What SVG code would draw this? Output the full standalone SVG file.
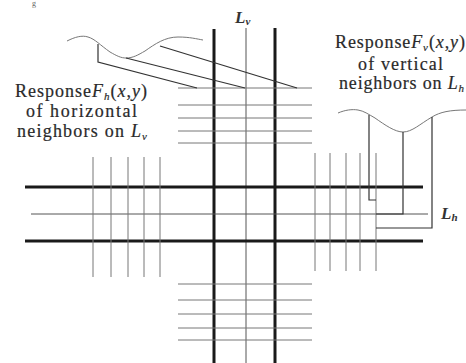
<svg xmlns="http://www.w3.org/2000/svg" width="466" height="363" viewBox="0 0 466 363">
<style>
.thick{stroke:#1a1a1a;stroke-width:3;fill:none}
.thin{stroke:#555;stroke-width:1;fill:none}
.nb{stroke:#777;stroke-width:1;fill:none}
.curve{stroke:#777;stroke-width:1;fill:none}
.conn{stroke:#333;stroke-width:1.2;fill:none}
.lbl{font-family:"Liberation Serif","Times New Roman",serif;font-size:18px;fill:#2a2a2a;stroke:#2a2a2a;stroke-width:0.2}
.it{font-style:italic}
.sub{font-size:11px}
.L{font-family:"Liberation Serif","Times New Roman",serif;font-size:17px;font-style:italic;font-weight:bold;fill:#333}
</style>
<rect width="466" height="363" fill="#fff"/>
<text x="32" y="6" font-family="Liberation Serif, serif" font-size="8" fill="#666">g</text>
<g id="main-lines">
<line class="thick" x1="214" y1="29" x2="214" y2="363"/>
<line class="thin" x1="246" y1="28" x2="246" y2="363"/>
<line class="thick" x1="275" y1="28" x2="275" y2="363"/>
<line class="thick" x1="25" y1="187" x2="423" y2="187"/>
<line class="thin" x1="31" y1="214" x2="428" y2="214"/>
<line class="thick" x1="25" y1="241" x2="423" y2="241"/>
</g>
<g id="top-neighbors">
<line class="nb" x1="178" y1="88" x2="312" y2="88"/>
<line class="nb" x1="178" y1="105" x2="312" y2="105"/>
<line class="nb" x1="178" y1="118" x2="312" y2="118"/>
<line class="nb" x1="178" y1="131" x2="312" y2="131"/>
<line class="nb" x1="178" y1="143" x2="312" y2="143"/>
</g>
<g id="bottom-neighbors">
<line class="nb" x1="178" y1="284" x2="312" y2="284"/>
<line class="nb" x1="178" y1="300" x2="312" y2="300"/>
<line class="nb" x1="178" y1="314" x2="312" y2="314"/>
<line class="nb" x1="178" y1="328" x2="312" y2="328"/>
<line class="nb" x1="178" y1="340" x2="312" y2="340"/>
</g>
<g id="left-neighbors">
<line class="nb" x1="93" y1="157" x2="93" y2="277"/>
<line class="nb" x1="111" y1="157" x2="111" y2="277"/>
<line class="nb" x1="128" y1="157" x2="128" y2="277"/>
<line class="nb" x1="144" y1="157" x2="144" y2="277"/>
<line class="nb" x1="160" y1="157" x2="160" y2="277"/>
</g>
<g id="right-neighbors">
<line class="nb" x1="315" y1="153" x2="315" y2="271"/>
<line class="nb" x1="330" y1="153" x2="330" y2="271"/>
<line class="nb" x1="346" y1="153" x2="346" y2="271"/>
<line class="nb" x1="360" y1="153" x2="360" y2="271"/>
<line class="nb" x1="376" y1="153" x2="376" y2="271"/>
</g>
<g id="response-h">
<path class="curve" d="M67,41 C75,37 82,35 88,37 C95,39 100,45 110,52 C117,56 121,58 126,58 C133,58 138,55 145,51 C155,44 165,37 178,37 C190,37 197,39 203,40"/>
<text class="lbl" x="15" y="97" textLength="132" lengthAdjust="spacing">Response<tspan class="it">F</tspan><tspan class="sub it" dy="3">h</tspan><tspan dy="-3">(</tspan><tspan class="it">x</tspan>,<tspan class="it">y</tspan>)</text>
<text class="lbl" x="26" y="117" textLength="111" lengthAdjust="spacing">of horizontal</text>
<text class="lbl" x="17" y="137" textLength="130" lengthAdjust="spacing">neighbors on <tspan class="it">L</tspan><tspan class="sub it" dy="3">v</tspan></text>
</g>
<g id="response-v">
<path class="curve" d="M338,113 C345,110 352,109 358,110 C364,111 368,114 375,118 C385,125 395,132 403,132 C412,132 420,124 432,117 C440,112 450,110 466,110"/>
<text class="lbl" x="335" y="48" textLength="130" lengthAdjust="spacing">Response<tspan class="it">F</tspan><tspan class="sub it" dy="3">v</tspan><tspan dy="-3">(</tspan><tspan class="it">x</tspan>,<tspan class="it">y</tspan>)</text>
<text class="lbl" x="358" y="70" textLength="85" lengthAdjust="spacing">of vertical</text>
<text class="lbl" x="339" y="89" textLength="125" lengthAdjust="spacing">neighbors on <tspan class="it">L</tspan><tspan class="sub it" dy="3">h</tspan></text>
</g>
<g id="label-Lv">
<text class="L" x="235" y="23">L<tspan class="sub" dy="2">v</tspan></text>
</g>
<g id="label-Lh">
<text class="L" x="441" y="219">L<tspan class="sub" dy="2">h</tspan></text>
</g>
<g id="connectors">
<polyline class="conn" points="98,44 98,62 197,88"/>
<line class="conn" x1="126" y1="58" x2="245" y2="88"/>
<line class="conn" x1="160" y1="46" x2="297" y2="88"/>
<polyline class="conn" points="369,115 369,200 376,200"/>
<polyline class="conn" points="403,132 403,214 376,214"/>
<polyline class="conn" points="432,117 432,228 376,228"/>
</g>
</svg>
